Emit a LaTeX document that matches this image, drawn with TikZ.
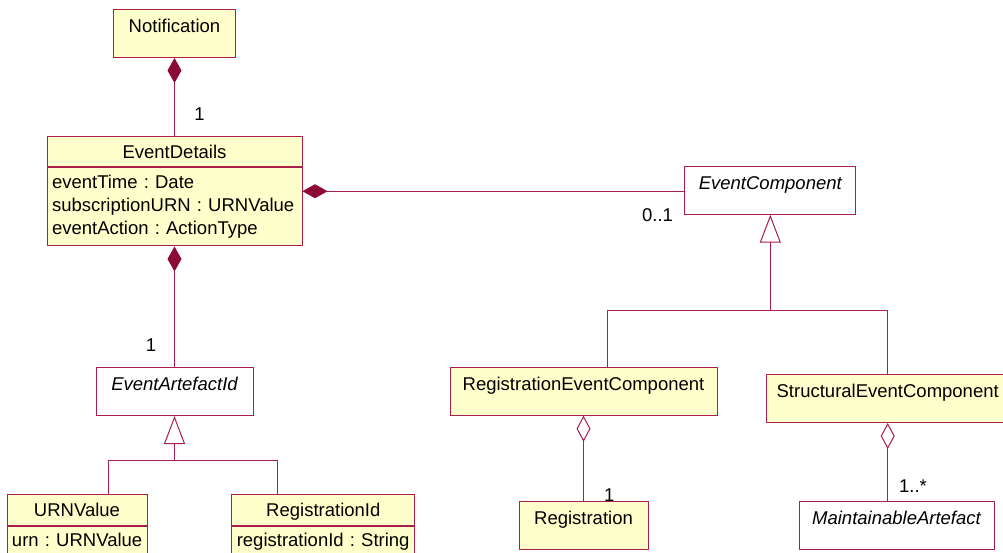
\documentclass[tikz,border=0pt]{standalone}
\usepackage{fontspec}
\setmainfont{Liberation Sans}
\usepackage{tikz}
\usetikzlibrary{positioning,calc,arrows.meta}
\definecolor{umlborder}{RGB}{170,30,75}
\definecolor{umlfill}{RGB}{255,255,204}
\definecolor{umlwhole}{RGB}{140,10,55}
% no hyphenation inside the attribute boxes
\hyphenpenalty=10000
\tikzset{
  %------------------------%
  %  UML class boxes       %
  %------------------------%
  % Box for a class shown by its name only
  box_class/.style={
    rectangle,
    align=center,
    draw=umlborder,
    fill=umlfill,
    line width=1pt,
    inner sep=0pt,
    text height=23pt,
    text depth=25pt,
    font=\fontsize{18.5}{22.8}\selectfont\frenchspacing
  },
  % Box for an abstract class
  box_abstract/.style={
    box_class,
    fill=white,
    font=\fontsize{18.5}{22.8}\selectfont\itshape
  },
  % Name compartment of a class with attributes
  box_head/.style={
    box_class,
    text height=22pt,
    text depth=8.5pt
  },
  % Attribute compartment
  box_attr/.style={
    box_class,
    align=left,
    inner xsep=5pt,
    text height=20.5pt
  },
  %----------------%
  %   Connectors   %
  %----------------%
  link/.style={draw=umlborder, line width=1pt},
  compose/.style={link, {Diamond[length=25pt,width=14pt,fill=umlwhole,color=umlwhole]}-},
  aggregate/.style={link, {Diamond[length=26pt,width=14pt,fill=white]}-},
  inherit/.style={link, -{Triangle[length=28pt,width=21pt,fill=white]}},
  mult/.style={inner sep=0pt, font=\fontsize{18.5}{22}\selectfont},
}

\begin{document}
\begin{tikzpicture}[x=1pt, y=-1pt]
    \useasboundingbox (0,0) rectangle (1003,553);
    \clip (0,0) rectangle (1003,553);

    %------------------%
    %  Left branch     %
    %------------------%
    % Notification
    \node (notif) [box_class, anchor=north, minimum width=122pt] at (174.5, 9) {Notification};
    % EventDetails: name and attributes
    \node (details) [box_head, anchor=north, minimum width=255pt] at (174.5, 136) {EventDetails};
    \node (details_attr) [box_attr, below=0pt of details, text width=245pt, text depth=57.5pt]
      {eventTime~:~Date\\subscriptionURN~:~URNValue\\eventAction~:~ActionType};
    % EventArtefactId
    \node (artefact) [box_abstract, anchor=north, minimum width=157pt] at (174.5, 367) {EventArtefactId};
    % URNValue
    \node (urn) [box_head, anchor=north, minimum width=140pt] at (77, 494) {URNValue};
    \node (urn_attr) [box_attr, below=0pt of urn, text width=130pt, text depth=20pt] {urn~:~URNValue};
    % RegistrationId
    \node (regid) [box_head, anchor=north, minimum width=183pt] at (323.3, 494) {RegistrationId};
    \node (regid_attr) [box_attr, below=0pt of regid, text width=173pt, text depth=20pt] {registrationId~:~String};

    %------------------%
    %  Right branch    %
    %------------------%
    % EventComponent
    \node (ec) [box_abstract, anchor=north, minimum width=171pt] at (770.3, 165.7) {EventComponent};
    % RegistrationEventComponent
    \node (rec) [box_class, anchor=north, minimum width=267pt] at (583.5, 366.7) {RegistrationEventComponent};
    % StructuralEventComponent
    \node (sec) [box_class, anchor=north, minimum width=243.4pt] at (887.7, 374) {StructuralEventComponent};
    % Registration
    \node (reg) [box_class, anchor=north, minimum width=129pt] at (583.5, 501) {Registration};
    % MaintainableArtefact
    \node (maint) [box_abstract, anchor=north, minimum width=195pt] at (896.5, 501) {MaintainableArtefact};

    %----------------%
    %  Multiplicity  %
    %----------------%
    \node (m_notif) [mult] at (199.5, 114) {1};
    \node (m_artefact) [mult] at (151, 345) {1};
    \node (m_ec) [mult] at (657.5, 215.3) {0..1};
    \node (m_reg) [mult] at (609.3, 495.5) {1};
    \node (m_maint) [mult] at (913, 486) {1..*};

    %----------%
    %  Joints  %
    %----------%
    \coordinate (details_mid) at ($(details.north east)!0.5!(details_attr.south east)$);
    \coordinate (urn_join) at (108.3, 460.7);
    \coordinate (regid_join) at (277.7, 460.7);
    \coordinate (rec_join) at (607, 310.7);
    \coordinate (sec_join) at (887.7, 310.7);

    %----------%
    %  Arrows  %
    %----------%
    % Notification <>-- EventDetails
    \draw [compose] (notif.south) -- (details.north);
    % EventDetails <>-- EventArtefactId
    \draw [compose] (details_attr.south) -- (artefact.north);
    % EventDetails <>-- EventComponent
    \draw [compose] (details_mid) -- (details_mid -| ec.west);

    % URNValue, RegistrationId --|> EventArtefactId
    \draw [link] (urn_join |- urn.north) -- (urn_join) -- (regid_join) -- (regid_join |- regid.north);
    \draw [inherit] (artefact.south |- urn_join) -- (artefact.south);

    % RegistrationEventComponent, StructuralEventComponent --|> EventComponent
    \draw [link] (rec_join |- rec.north) -- (rec_join) -- (sec_join) -- (sec.north);
    \draw [inherit] (ec.south |- rec_join) -- (ec.south);

    % RegistrationEventComponent <>-- Registration
    \draw [aggregate] (rec.south) -- (reg.north);
    % StructuralEventComponent <>-- MaintainableArtefact
    \draw [aggregate] (sec.south) -- (sec.south |- maint.north);
\end{tikzpicture}
\end{document}
